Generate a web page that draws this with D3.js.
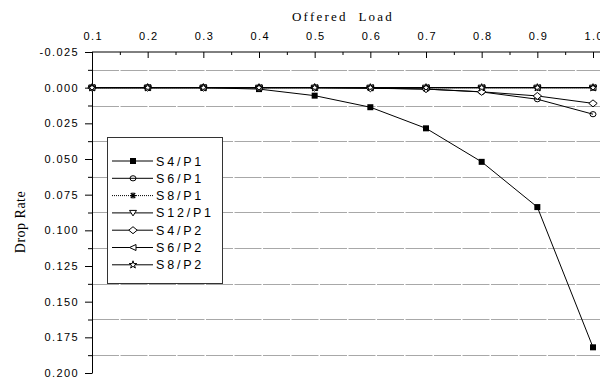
<!DOCTYPE html>
<html>
<head>
<meta charset="utf-8">
<script src="https://cdn.jsdelivr.net/npm/d3@7"></script>
<style>
  body { margin: 0; background: #fff; }
  svg { display: block; }
  .tick text { font-family: "Liberation Sans", Arial, sans-serif; font-size: 11px; letter-spacing: 1.4px; fill: #000; }
</style>
</head>
<body>
<div id="chart"></div>
<script>
// x values (offered load) and drop rate per series
const loads = [0.1, 0.2, 0.3, 0.4, 0.5, 0.6, 0.7, 0.8, 0.9, 1.0];
const s4p1  = [0, 0, 0, 0.001, 0.0056, 0.0137, 0.0285, 0.052, 0.0837, 0.182];
const s6p1  = [0, 0, 0, 0, 0, 0.0003, 0.001, 0.003, 0.0081, 0.0186];
const s8p1  = [0, 0, 0, 0, 0, 0, 0, 0, 0, 0];
const s12p1 = [0, 0, 0, 0, 0, 0, 0, 0, 0, 0];
const s4p2  = [0, 0, 0, 0, 0, 0.0004, 0.001, 0.0029, 0.0058, 0.011];
const s6p2  = [0, 0, 0, 0, 0, 0, 0, 0, 0, 0];
const s8p2  = [0, 0, 0, 0, 0, 0, 0, 0, 0, 0];

const seriesNames = ["S4/P1", "S6/P1", "S8/P1", "S12/P1", "S4/P2", "S6/P2", "S8/P2"];
const seriesValues = [s4p1, s6p1, s8p1, s12p1, s4p2, s6p2, s8p2];
const seriesMarkers = ["square", "circle", "asterisk", "triDown", "diamond", "triLeft", "star"];

const xTicks = [0.1, 0.2, 0.3, 0.4, 0.5, 0.6, 0.7, 0.8, 0.9, 1.0];
const yTicks = [-0.025, 0, 0.025, 0.05, 0.075, 0.1, 0.125, 0.15, 0.175, 0.2];

const W = 600, H = 377;
const svg = d3.select("#chart").append("svg").attr("width", W).attr("height", H);

const x = d3.scaleLinear().domain([0.1, 1.0]).range([92, 593]);
const y = d3.scaleLinear().domain([-0.025, 0.2]).range([52, 373]);

const xMinor = xTicks.slice(0, -1).map((d, i) => (d + xTicks[i + 1]) / 2);
const yMinor = yTicks.slice(0, -1).map((d, i) => (d + yTicks[i + 1]) / 2);

// grid lines on minor positions
svg.append("g")
  .selectAll("line")
  .data(yMinor)
  .join("line")
  .attr("x1", x(0.1)).attr("x2", W)
  .attr("y1", d => Math.round(y(d)) + 0.5).attr("y2", d => Math.round(y(d)) + 0.5)
  .attr("stroke", "#a8a8a8")
  .attr("stroke-dasharray", "27,1.5");

// top x axis
const xAxisG = svg.append("g").attr("transform", `translate(0,${y(-0.025)})`);
xAxisG.call(d3.axisTop(x).tickValues(xTicks).tickSize(-6).tickSizeOuter(0).tickPadding(12)
  .tickFormat(d => d.toFixed(1)));
xAxisG.select(".domain").remove();
xAxisG.selectAll(".tick text").attr("dx", "0.7px");
svg.append("g").attr("transform", `translate(0,${y(-0.025)})`)
  .call(d3.axisTop(x).tickValues(xMinor).tickSize(-3).tickFormat(""))
  .select(".domain").remove();
svg.append("line")
  .attr("x1", x(0.1)).attr("x2", W)
  .attr("y1", y(-0.025)).attr("y2", y(-0.025))
  .attr("stroke", "#000");

// left y axis
const yAxisG = svg.append("g").attr("transform", `translate(${x(0.1)},0)`);
yAxisG.call(d3.axisLeft(y).tickValues(yTicks).tickSize(7).tickSizeOuter(0).tickPadding(6)
  .tickFormat(d => d.toFixed(3)));
svg.append("g").attr("transform", `translate(${x(0.1)},0)`)
  .call(d3.axisLeft(y).tickValues(yMinor).tickSize(4).tickSizeOuter(0).tickFormat(""))
  .select(".domain").remove();

// axis titles
svg.append("text")
  .attr("x", 343).attr("y", 21)
  .attr("text-anchor", "middle")
  .attr("font-family", "'Liberation Serif', 'Times New Roman', serif")
  .attr("font-size", "13px")
  .attr("letter-spacing", "2.2px")
  .style("white-space", "pre")
  .text("Offered  Load");

svg.append("text")
  .attr("transform", "translate(25,222) rotate(-90)")
  .attr("text-anchor", "middle")
  .attr("font-family", "'Liberation Serif', 'Times New Roman', serif")
  .attr("font-size", "14px")
  .attr("letter-spacing", "0.5px")
  .text("Drop Rate");

// markers
function drawMarker(sel, type) {
  const stroke = "#000";
  if (type === "square") {
    sel.append("rect").attr("x", -3).attr("y", -3).attr("width", 6).attr("height", 6).attr("fill", "#000");
  } else if (type === "circle") {
    sel.append("ellipse").attr("rx", 3).attr("ry", 2.6).attr("fill", "none").attr("stroke", stroke);
  } else if (type === "asterisk") {
    sel.append("path").attr("d", "M-3,0H3M-2.2,-2.6L2.2,2.6M-2.2,2.6L2.2,-2.6M0,-3V3")
      .attr("stroke", stroke).attr("stroke-width", 1.2);
  } else if (type === "triDown") {
    sel.append("path").attr("d", "M-3.5,-2.5L3.5,-2.5L0,3Z").attr("fill", "#fff").attr("stroke", stroke);
  } else if (type === "diamond") {
    sel.append("path").attr("d", "M0,-3.5L4.2,0L0,3.5L-4.2,0Z").attr("fill", "#fff").attr("stroke", stroke);
  } else if (type === "triLeft") {
    sel.append("path").attr("d", "M-3.5,0L3,-3L3,3Z").attr("fill", "#fff").attr("stroke", stroke);
  } else if (type === "star") {
    sel.append("path").attr("d", d3.symbol(d3.symbolStar, 18)()).attr("fill", "#fff").attr("stroke", stroke);
  }
}

const line = d3.line().x(d => x(d[0])).y(d => y(d[1]));

seriesValues.forEach((vals, i) => {
  const pts = loads.map((l, j) => [l, vals[j]]);
  const g = svg.append("g");
  g.append("path")
    .attr("d", line(pts))
    .attr("fill", "none")
    .attr("stroke", "#000")
    .attr("stroke-width", 1)
    .attr("stroke-dasharray", seriesMarkers[i] === "asterisk" ? "1,1" : null);
  g.selectAll("g.pt")
    .data(pts)
    .join("g")
    .attr("class", "pt")
    .attr("transform", d => `translate(${x(d[0])},${y(d[1])})`)
    .each(function () { drawMarker(d3.select(this), seriesMarkers[i]); });
});

// legend
const legend = svg.append("g");
legend.append("rect")
  .attr("x", 107.5).attr("y", 137.5).attr("width", 115).attr("height", 146)
  .attr("fill", "#fff").attr("stroke", "#333");

seriesNames.forEach((name, i) => {
  const ly = 161 + i * 17.3;
  const row = legend.append("g").attr("transform", `translate(0,${ly})`);
  row.append("line")
    .attr("x1", 112).attr("x2", 153)
    .attr("stroke", "#000")
    .attr("stroke-dasharray", seriesMarkers[i] === "asterisk" ? "1,1" : null);
  const m = row.append("g").attr("transform", "translate(133,0)");
  drawMarker(m, seriesMarkers[i]);
  row.append("text")
    .attr("x", 156).attr("y", 4.5)
    .attr("font-family", "'Liberation Sans', Arial, sans-serif")
    .attr("font-size", "12.5px")
    .attr("letter-spacing", "2.8px")
    .text(name);
});
</script>
</body>
</html>
